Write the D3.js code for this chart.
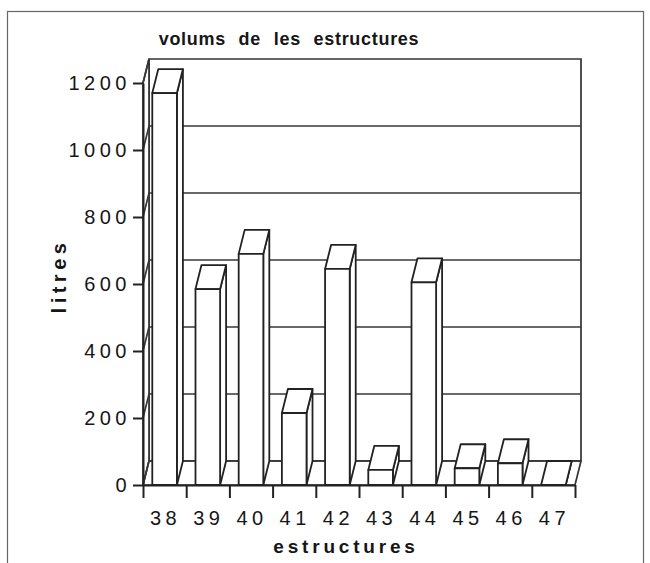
<!DOCTYPE html>
<html>
<head>
<meta charset="utf-8">
<script src="https://cdn.jsdelivr.net/npm/d3@7"></script>
<style>
  body { margin: 0; background: #fff; }
  svg text { font-family: "Liberation Sans", Arial, Helvetica, sans-serif; fill: #161616; }
  .title { font-size: 18px; font-weight: bold; letter-spacing: 0.7px; word-spacing: 7px; }
  .axis-title { font-size: 19px; font-weight: bold; letter-spacing: 3.8px; }
  .ylab { font-size: 20px; letter-spacing: 4.5px; }
  .axis text { font-size: 20px; letter-spacing: 4.5px; }
  .axis path, .axis line { stroke: #222; stroke-width: 2px; }
  .wall { fill: #fff; stroke: #333; stroke-width: 1.7px; }
  .grid { fill: none; stroke: #383838; stroke-width: 1.7px; }
  .bar { fill: #fff; stroke: #222; stroke-width: 1.8px; stroke-linejoin: round; }
</style>
</head>
<body>
<div id="chart"></div>
<script>

// ----- data -----
var categories = ["38", "39", "40", "41", "42", "43", "44", "45", "46", "47"];
var volumes    = [1170, 585, 690, 215, 645, 45, 605, 50, 65, 0];
var yTicks     = [0, 200, 400, 600, 800, 1000, 1200];
var gridValues = [0, 200, 400, 600, 800, 1000];   // 1200 is the top edge of the wall

var width = 650, height = 563;
var depth = {dx: 6, dy: -24};   // offset of the back plane

var svg = d3.select("#chart").append("svg")
    .attr("width", width)
    .attr("height", height);

// outer frame
svg.append("rect")
    .attr("x", 7.5).attr("y", 11.5)
    .attr("width", 636).attr("height", 580)
    .attr("fill", "none")
    .attr("stroke", "#666")
    .attr("stroke-width", 1.2);

var x = d3.scaleBand().domain(categories).range([143, 575]).padding(0);
var xEdge = d3.scaleLinear().domain([0, categories.length]).range([143, 575]);
var y = d3.scaleLinear().domain([0, 1200]).range([485, 83]);

var barW = x.bandwidth() * 0.57;

// helper: polygon path from list of points
function poly(pts) {
    var p = d3.path();
    p.moveTo(pts[0][0], pts[0][1]);
    for (var i = 1; i < pts.length; i++) p.lineTo(pts[i][0], pts[i][1]);
    p.closePath();
    return p.toString();
}
function back(pt) { return [pt[0] + depth.dx, pt[1] + depth.dy]; }

var x0 = xEdge(0), x1 = xEdge(categories.length);
var yBase = y(0), yTop = y(1200);

// back wall
svg.append("path").attr("class", "wall")
    .attr("d", poly([back([x0, yBase]), back([x1, yBase]), back([x1, yTop]), back([x0, yTop])]));

// left wall
svg.append("path").attr("class", "wall")
    .attr("d", poly([[x0, yBase], [x0, yTop], back([x0, yTop]), back([x0, yBase])]));

// floor
svg.append("path").attr("class", "wall")
    .attr("d", poly([[x0, yBase], [x1, yBase], back([x1, yBase]), back([x0, yBase])]));

// gridlines: across left wall then along back wall
svg.selectAll(".grid").data(gridValues.concat([1200])).enter().append("path")
    .attr("class", "grid")
    .attr("d", function(v) {
        var p = d3.path();
        p.moveTo(x0, y(v));
        p.lineTo(x0 + depth.dx, y(v) + depth.dy);
        if (v < 1200) p.lineTo(x1 + depth.dx, y(v) + depth.dy);
        return p.toString();
    });

// bars as boxes: front, side, top
var bars = svg.selectAll(".barg").data(volumes).enter().append("g")
    .attr("class", "barg");

bars.each(function(v, i) {
    var g = d3.select(this);
    var cx = x(categories[i]) + x.bandwidth() / 2;
    var l = cx - barW / 2, r = cx + barW / 2;
    var t = y(v), b = y(0);

    // right side face
    g.append("path").attr("class", "bar")
        .attr("d", poly([[r, b], back([r, b]), back([r, t]), [r, t]]));
    // top face
    g.append("path").attr("class", "bar")
        .attr("d", poly([[l, t], [r, t], back([r, t]), back([l, t])]));
    // front face
    if (v > 0) {
        g.append("path").attr("class", "bar")
            .attr("d", poly([[l, b], [r, b], [r, t], [l, t]]));
    }
});

// y axis
svg.append("g")
    .attr("class", "axis")
    .attr("transform", "translate(" + x0 + ",0)")
    .call(d3.axisLeft(y).tickValues(yTicks).tickFormat(d3.format("d"))
        .tickSize(10).tickSizeOuter(0).tickPadding(2));

// x axis: baseline with ticks on the category edges
svg.append("g")
    .attr("class", "axis")
    .attr("transform", "translate(0," + yBase + ")")
    .call(d3.axisBottom(xEdge).tickValues(d3.range(categories.length + 1))
        .tickFormat("").tickSize(13).tickSizeOuter(0));

// x labels in the middle of each category
svg.append("g")
    .attr("class", "axis")
    .attr("transform", "translate(0," + yBase + ")")
    .call(d3.axisBottom(x).tickSize(0).tickPadding(26))
    .call(function(g) {
        g.select(".domain").remove();
        g.selectAll("text").attr("dx", "0.05em");
    });

// titles
svg.append("text")
    .attr("class", "title")
    .attr("x", 289).attr("y", 45)
    .attr("text-anchor", "middle")
    .text("volums de les estructures");

svg.append("text")
    .attr("class", "axis-title")
    .attr("x", 346).attr("y", 553)
    .attr("text-anchor", "middle")
    .text("estructures");

svg.append("text")
    .attr("class", "axis-title")
    .attr("transform", "translate(66,276) rotate(-90)")
    .attr("text-anchor", "middle")
    .style("font-size", "20px")
    .style("letter-spacing", "4.5px")
    .text("litres");

</script>
</body>
</html>
